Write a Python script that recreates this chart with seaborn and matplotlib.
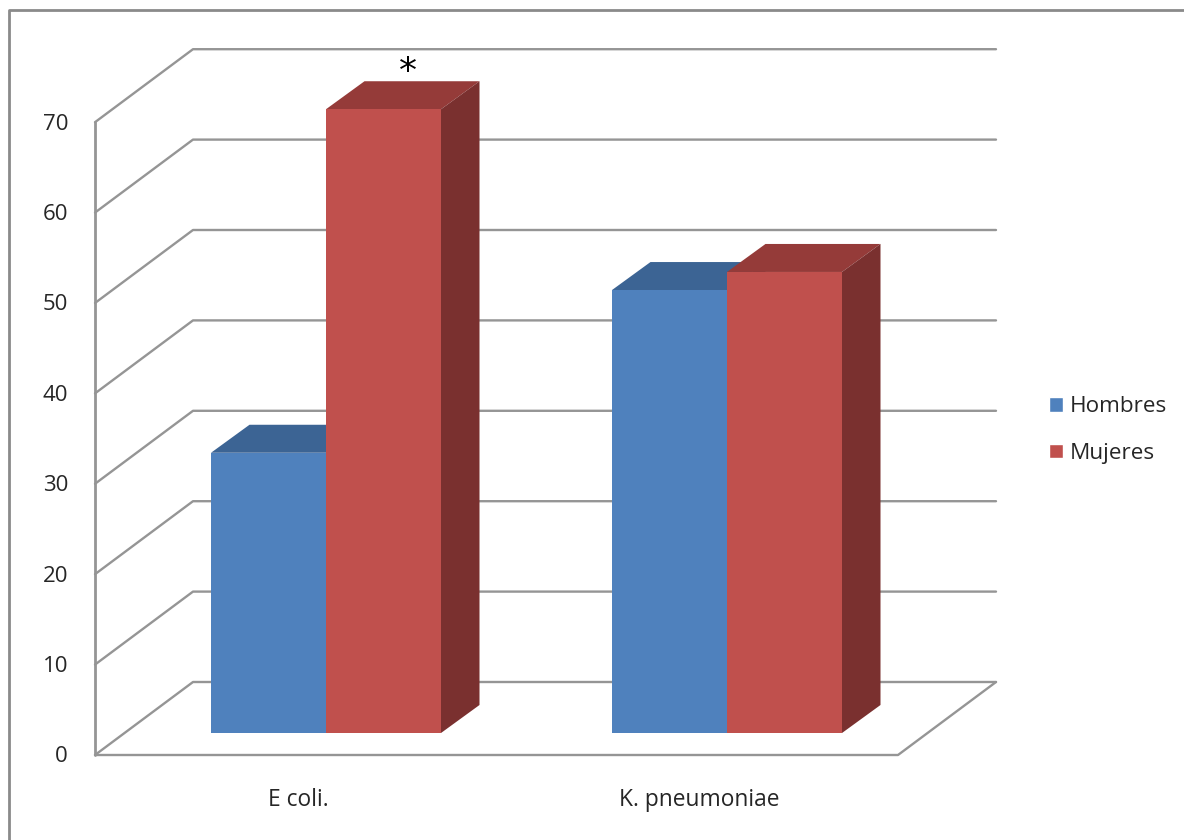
import matplotlib
matplotlib.use("Agg")
import matplotlib.pyplot as plt
from matplotlib.patches import Polygon
import pandas as pd
import seaborn as sns

# data
organismos = ["E coli.", "K. pneumoniae"]
hombres = [31, 49]
mujeres = [69, 51]
y_ticks = [0, 10, 20, 30, 40, 50, 60, 70]

W, H = 1184, 840
PX_CAT = 401.0     # px between categories
PX_UNIT = 9.04     # px per percent
X0_PX = 326.0      # centre of first group
Y0_PX = 733.0      # foot of the bars

GRID = "#959595"
TXT = "#262626"
FRONT = ["#4F81BD", "#C0504D"]
TOP = ["#3C6494", "#953B39"]
SIDE = ["#2F4F76", "#7A302F"]


def xd(px):
    return (px - X0_PX) / PX_CAT


def yd(px):
    return (Y0_PX - px) / PX_UNIT


df = pd.DataFrame({
    "organismo": organismos * 2,
    "sexo": ["Hombres"] * 2 + ["Mujeres"] * 2,
    "valor": hombres + mujeres,
})

sns.set_theme(style="white")
plt.rcParams["font.family"] = ["Open Sans", "DejaVu Sans"]

fig = plt.figure(figsize=(W / 100, H / 100), dpi=100)
ax = fig.add_axes([0, 0, 1, 1])
sns.barplot(data=df, x="organismo", y="valor", hue="sexo", palette=FRONT,
            width=230 / PX_CAT, gap=0, saturation=1, ax=ax, zorder=3)
ax.set_xlim(xd(0), xd(W))
ax.set_ylim(yd(H), yd(0))
ax.axis("off")

# depth of the fake 3d box and of the bars
box_dx, box_dy = 98 / PX_CAT, 73 / PX_UNIT
bar_dx, bar_dy = 38.5 / PX_CAT, 28 / PX_UNIT
front_x = xd(95)
front_y = yd(755)
right_x = xd(898)

# walls
for t in y_ticks:
    y = front_y + t
    ax.plot([front_x, front_x + box_dx, right_x + box_dx],
            [y, y + box_dy, y + box_dy], color=GRID, lw=1.7, zorder=1)
    ax.text(front_x - 27 / PX_CAT, y - 2 / PX_UNIT, str(t), ha="right", va="center",
            fontsize=16, color=TXT)
ax.plot([front_x, front_x], [front_y, front_y + y_ticks[-1]], color=GRID, lw=2, zorder=1)
ax.plot([front_x, right_x, right_x + box_dx],
        [front_y, front_y, front_y + box_dy], color=GRID, lw=1.7, zorder=1)

# top and side of every bar
for i, cont in enumerate(ax.containers):
    for bar in cont:
        x, w, h = bar.get_x(), bar.get_width(), bar.get_height()
        ax.add_patch(Polygon([(x, h), (x + bar_dx, h + bar_dy),
                              (x + w + bar_dx, h + bar_dy), (x + w, h)],
                             color=TOP[i], lw=0, zorder=2))
        ax.add_patch(Polygon([(x + w, 0), (x + w + bar_dx, bar_dy),
                              (x + w + bar_dx, h + bar_dy), (x + w, h)],
                             color=SIDE[i], lw=0, zorder=2))
        bar.set_linewidth(0)

for i, name in enumerate(organismos):
    ax.text(i - 28 / PX_CAT, yd(800), name, ha="center", va="center",
            fontsize=16.4, color=TXT)

ax.text(xd(408), mujeres[0] + 4.1, "*", ha="center", va="center",
        fontsize=26, color="black", family="DejaVu Sans")

# chart border, runs off the right and bottom edge
ax.plot([xd(9), xd(9), xd(W + 5)], [yd(H + 5), yd(10), yd(10)], color="#8a8a8a", lw=2, zorder=1)

leg = ax.legend(loc="center left", bbox_to_anchor=(xd(1048.5), yd(430)),
                bbox_transform=ax.transData, frameon=False, fontsize=16.2,
                borderpad=0, borderaxespad=0, handlelength=0.63, handleheight=0.63,
                handletextpad=0.33, labelspacing=1.15, labelcolor=TXT)

fig.savefig("out.png", dpi=100, facecolor="white")
